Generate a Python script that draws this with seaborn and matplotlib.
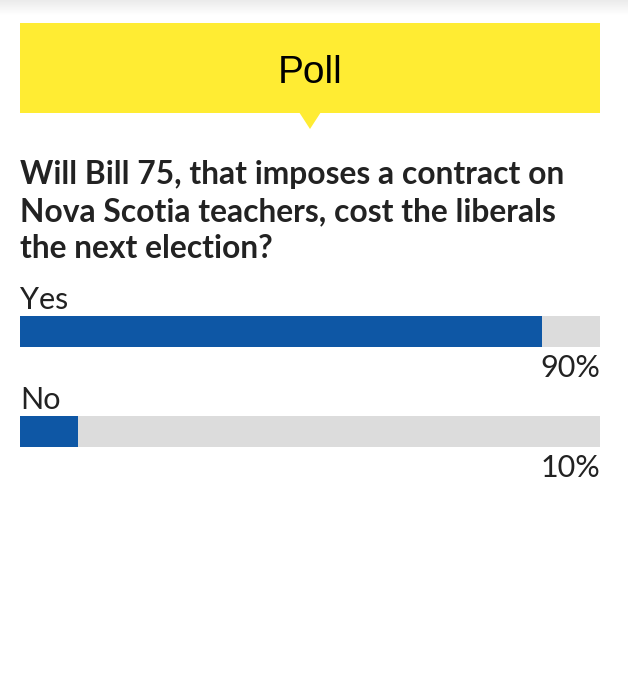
import seaborn as sns
import matplotlib.pyplot as plt
from matplotlib.patches import Rectangle, Polygon
import numpy as np

# Poll data
options = ['Yes', 'No']
percent = [90, 10]
scale_max = [100, 100]   # full track behind every option
question = ['Will Bill 75, that imposes a contract on',
            'Nova Scotia teachers, cost the liberals',
            'the next election?']
header = 'Poll'

YELLOW = '#FFEC33'
BLUE = '#0E57A5'
TRACK = '#DCDCDC'
INK = '#222222'

sns.set_style('white')
plt.rcParams['font.family'] = ['Lato', 'DejaVu Sans']

W, H = 628, 678
fig = plt.figure(figsize=(W / 100, H / 100), dpi=100)
fig.patch.set_facecolor('white')

# background layer in pixel coordinates
bg = fig.add_axes([0, 0, 1, 1])
bg.set_xlim(0, W)
bg.set_ylim(H, 0)
bg.axis('off')

# faint shadow at the very top
grad = np.linspace(0.92, 1.0, 16).reshape(-1, 1)
bg.imshow(grad, cmap='gray', vmin=0, vmax=1, extent=[0, W, 16, 0], aspect='auto')

# yellow header with pointer
bg.add_patch(Rectangle((20, 23), 580, 90, facecolor=YELLOW, edgecolor='none'))
bg.add_patch(Polygon([(299, 112), (321, 112), (310, 129)], closed=True,
                     facecolor=YELLOW, edgecolor='none'))
bg.text(310, 83, header, ha='center', va='baseline', fontsize=28,
        family=['Liberation Sans', 'DejaVu Sans'], color='black')

# question
for i, line in enumerate(question):
    bg.text(20, 184 + i * 37, line, ha='left', va='baseline', fontsize=22.9,
            fontweight='bold', color=INK)

# bars: one unit between categories = 100 px, bar thickness 31 px
ax = fig.add_axes([20 / W, 1 - 447 / H, 580 / W, 131 / H])
sns.barplot(x=scale_max, y=options, orient='h', color=TRACK, width=0.31,
            ax=ax, saturation=1, linewidth=0)
sns.barplot(x=percent, y=options, orient='h', color=BLUE, width=0.31,
            ax=ax, saturation=1, linewidth=0)
ax.set_xlim(0, 100)
ax.set_ylim(1.155, -0.155)
ax.axis('off')

for i, (opt, val) in enumerate(zip(options, percent)):
    ax.text(0, i - 0.155 - 0.07, opt, ha='left', va='baseline',
            fontsize=22, color=INK)
    ax.text(100, i + 0.155 + 0.30, f'{val}%', ha='right', va='baseline',
            fontsize=22, color=INK)

plt.savefig('out.png', dpi=100, facecolor='white')
